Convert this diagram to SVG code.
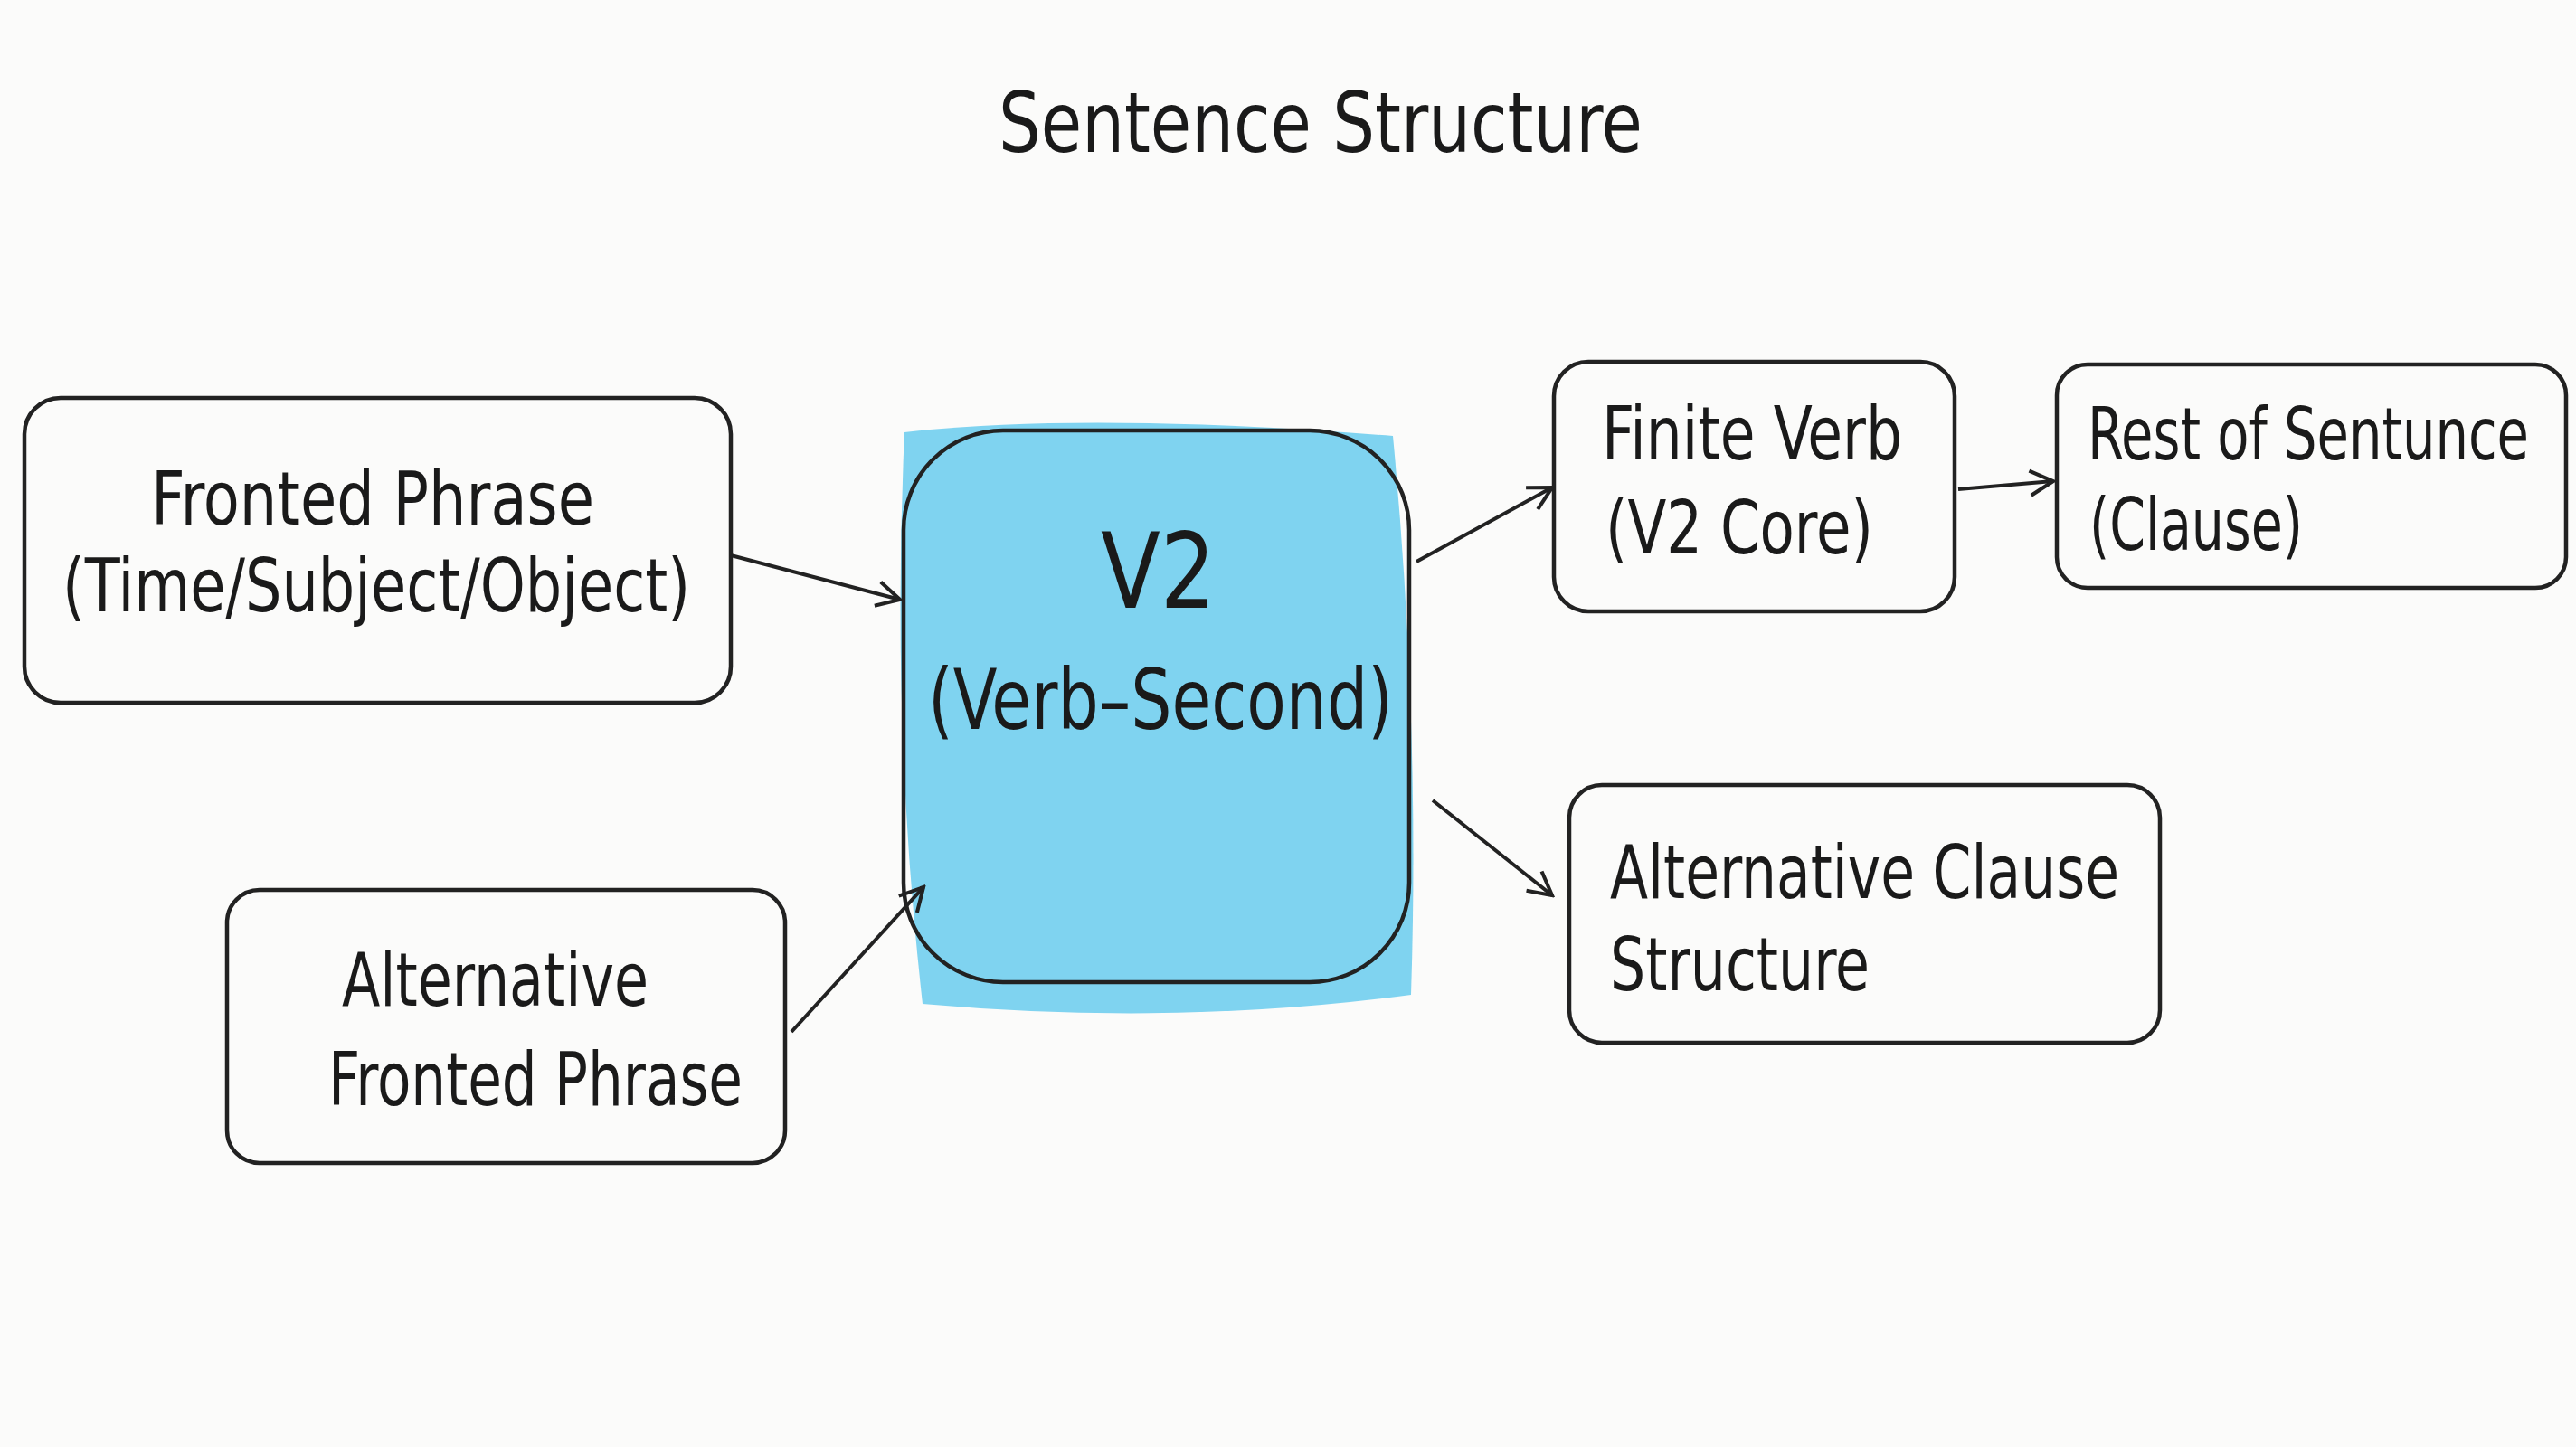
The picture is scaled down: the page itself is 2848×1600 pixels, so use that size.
<svg xmlns="http://www.w3.org/2000/svg" width="2848" height="1600" viewBox="0 0 2848 1600">
<defs>
<style>
.box{fill:none;stroke:#222;stroke-width:4.5}
.t{font-family:"DejaVu Sans Condensed","Liberation Sans",sans-serif;fill:#1a1a1a}
.c{stroke:#222;stroke-width:4;fill:none;marker-end:url(#ah)}
</style>
<marker id="ah" viewBox="0 0 20 20" refX="18" refY="10" markerWidth="34" markerHeight="34" markerUnits="userSpaceOnUse" orient="auto">
<path d="M3 2 L18 10 L3 18" fill="none" stroke="#222" stroke-width="2.4"/>
</marker>
</defs>
<rect width="2848" height="1600" fill="#fbfbfa"/>
<text class="t" x="1104" y="168" font-size="92" textLength="712" lengthAdjust="spacingAndGlyphs">Sentence  Structure</text>
<g id="fronted">
<rect class="box" x="27" y="440" width="781" height="337" rx="40"/>
<text class="t" x="167" y="580" font-size="82" textLength="490" lengthAdjust="spacingAndGlyphs">Fronted Phrase</text>
<text class="t" x="69" y="676" font-size="82" textLength="694" lengthAdjust="spacingAndGlyphs">(Time/Subject/Object)</text>
</g>
<g id="altfronted">
<rect class="box" x="251" y="984" width="617" height="302" rx="36"/>
<text class="t" x="378" y="1112" font-size="82" textLength="339" lengthAdjust="spacingAndGlyphs">Alternative</text>
<text class="t" x="363" y="1222" font-size="82" textLength="458" lengthAdjust="spacingAndGlyphs">Fronted Phrase</text>
</g>
<g id="v2">
<path d="M1000 478 Q1200 455 1540 482 Q1570 800 1560 1100 Q1300 1135 1020 1110 Q985 800 1000 478 Z" fill="#7fd3f0"/>
<rect class="box" x="999" y="476" width="559" height="610" rx="110"/>
<text class="t" x="1217" y="672" font-size="115" textLength="127" lengthAdjust="spacingAndGlyphs">V2</text>
<text class="t" x="1026" y="806" font-size="92" textLength="514" lengthAdjust="spacingAndGlyphs">(Verb–Second)</text>
</g>
<g id="finite">
<rect class="box" x="1718" y="400" width="443" height="276" rx="38"/>
<text class="t" x="1771" y="508" font-size="82" textLength="332" lengthAdjust="spacingAndGlyphs">Finite Verb</text>
<text class="t" x="1775" y="612" font-size="82" textLength="296" lengthAdjust="spacingAndGlyphs">(V2 Core)</text>
</g>
<g id="rest">
<rect class="box" x="2274" y="403" width="563" height="247" rx="34"/>
<text class="t" x="2308" y="508" font-size="80" textLength="488" lengthAdjust="spacingAndGlyphs">Rest of Sentunce</text>
<text class="t" x="2310" y="608" font-size="80" textLength="236" lengthAdjust="spacingAndGlyphs">(Clause)</text>
</g>
<g id="altclause">
<rect class="box" x="1735" y="868" width="653" height="285" rx="36"/>
<text class="t" x="1780" y="993" font-size="82" textLength="563" lengthAdjust="spacingAndGlyphs">Alternative Clause</text>
<text class="t" x="1780" y="1095" font-size="82" textLength="287" lengthAdjust="spacingAndGlyphs">Structure</text>
</g>
<g id="connectors">
<path class="c" d="M808 614 L995 663"/>
<path class="c" d="M875 1141 L1021 981"/>
<path class="c" d="M1566 621 L1716 539"/>
<path class="c" d="M2165 541 L2270 532"/>
<path class="c" d="M1584 885 L1716 990"/>
</g>
</svg>
